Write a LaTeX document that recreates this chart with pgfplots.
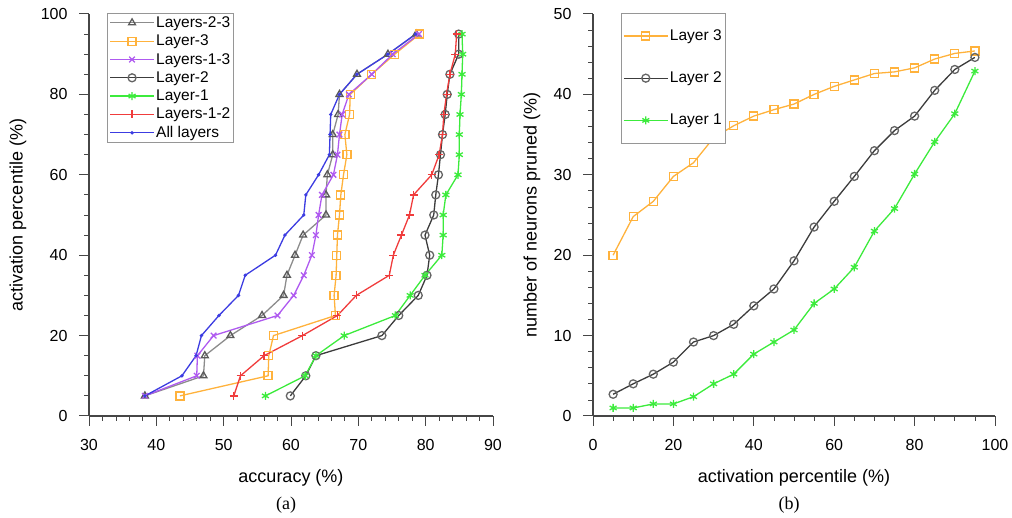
\documentclass[border=0pt]{standalone}
\usepackage{fontspec}
\setmainfont{Liberation Sans}
\newfontfamily\capfont{Liberation Serif}
\usepackage{pgfplots}
\pgfplotsset{compat=1.18}

\definecolor{axgray}{RGB}{70,70,70}
\definecolor{legframe}{RGB}{150,150,150}
\definecolor{cgray}{RGB}{140,140,140}
\definecolor{cgraymk}{RGB}{90,90,90}
\definecolor{corange}{RGB}{255,178,60}
\definecolor{cpurple}{RGB}{175,90,240}
\definecolor{cblack}{RGB}{60,60,60}
\definecolor{cblackmk}{RGB}{100,100,100}
\definecolor{cgreen}{RGB}{60,235,60}
\definecolor{cred}{RGB}{240,60,60}
\definecolor{cblue}{RGB}{60,60,225}

\pgfplotsset{
  fig/.style={
    scale only axis,
    axis x line=bottom, axis y line=left,
    axis line style={-, draw=axgray, line width=1.1pt},
    tick align=outside,
    major tick length=10pt, minor tick length=5pt,
    major tick style={axgray, line width=1pt},
    minor tick style={axgray, line width=0.8pt},
    tick label style={font=\fontsize{16}{16}\selectfont},
    xticklabel shift=10pt, yticklabel shift=8pt,
    label style={font=\fontsize{18}{18}\selectfont},
    /pgf/number format/assume math mode=true,
    legend cell align=left,
    legend image code/.code={
      \draw[mark repeat=2,mark phase=2] plot coordinates {(0pt,0pt) (22pt,0pt) (44pt,0pt)};},
    legend style={draw=legframe, line width=0.8pt, fill=white,
      font=\fontsize{15.5}{16}\selectfont, anchor=north west,
      inner xsep=2pt, inner ysep=2pt,
      nodes={inner sep=1.5pt}},
    every axis plot/.append style={line width=1.3pt, mark size=4pt},
  },
}

\begin{document}
\begin{tikzpicture}
\path[use as bounding box] (0pt,0pt) rectangle (1012pt,518pt);

% (a) accuracy vs activation percentile
\begin{axis}[fig,
  at={(89pt,102pt)}, anchor=south west,
  width=404pt, height=402pt,
  xmin=30, xmax=90, ymin=0, ymax=100,
  xtick={30,40,...,90}, ytick={0,20,...,100},
  minor x tick num=4, minor y tick num=3,
  xlabel={accuracy (\%)}, ylabel={activation percentile (\%)},
  xlabel style={at={(axis description cs:0.5,0)}, yshift=-62pt, anchor=center},
  ylabel style={at={(axis description cs:-0.1757,0.5)}, anchor=center},
  legend style={at={(axis description cs:0.0446,1.003)}, row sep=3pt},
]
\addplot[cgray, mark=triangle, mark options={draw=cgraymk}] coordinates {
(38.3,5) (47.0,10) (47.2,15) (51.0,20) (55.7,25) (58.9,30) (59.4,35) (60.6,40)
(61.8,45) (65.2,50) (65.2,55) (65.4,60) (66.2,65) (66.2,70) (67.0,75) (67.2,80)
(69.8,85) (74.4,90) (78.6,95)};
\addplot[corange, mark=square] coordinates {
(43.5,5) (56.6,10) (56.7,15) (57.4,20) (66.6,25) (66.4,30) (66.7,35) (66.8,40)
(66.9,45) (67.2,50) (67.4,55) (67.8,60) (68.3,65) (68.0,70) (68.7,75) (68.8,80)
(72.0,85) (75.4,90) (79.1,95)};
\addplot[cpurple, mark=x] coordinates {
(38.3,5) (46.0,10) (46.1,15) (48.5,20) (58.0,25) (60.4,30) (61.9,35) (63.1,40)
(63.7,45) (64.1,50) (64.6,55) (66.3,60) (66.9,65) (67.2,70) (67.6,75) (68.6,80)
(72.0,85) (75.1,90) (79.0,95)};
\addplot[cblack, mark=o, mark options={draw=cblackmk}] coordinates {
(59.9,5) (62.2,10) (63.7,15) (73.5,20) (76.0,25) (78.9,30) (80.2,35) (80.6,40)
(79.9,45) (81.2,50) (81.5,55) (81.9,60) (82.2,65) (82.5,70) (82.9,75) (83.2,80)
(83.6,85) (84.9,90) (84.9,95)};
\addplot[cgreen, mark=asterisk] coordinates {
(56.2,5) (62.1,10) (63.7,15) (67.9,20) (75.5,25) (77.7,30) (79.9,35) (82.4,40)
(82.6,45) (82.6,50) (83.0,55) (84.8,60) (85.0,65) (85.0,70) (85.1,75) (85.3,80)
(85.4,85) (85.5,90) (85.4,95)};
\addplot[cred, mark=+] coordinates {
(51.5,5) (52.5,10) (56.0,15) (61.7,20) (66.9,25) (69.7,30) (74.6,35) (75.2,40)
(76.4,45) (77.6,50) (78.2,55) (80.9,60) (82.0,65) (82.5,70) (82.7,75) (83.1,80)
(83.6,85) (84.4,90) (84.6,95)};
\addplot[cblue, mark=*, mark size=1pt] coordinates {
(38.3,5) (43.8,10) (45.9,15) (46.7,20) (49.3,25) (52.2,30) (53.2,35) (57.7,40)
(59.1,45) (61.9,50) (62.2,55) (64.1,60) (65.7,65) (65.8,70) (65.9,75) (67.2,80)
(69.8,85) (74.4,90) (78.5,95)};
\legend{Layers-2-3, Layer-3, Layers-1-3, Layer-2, Layer-1, Layers-1-2, All layers}
\end{axis}

% (b) neurons pruned vs activation percentile
\begin{axis}[fig,
  at={(593pt,102pt)}, anchor=south west,
  width=402pt, height=402pt,
  xmin=0, xmax=100, ymin=0, ymax=50,
  xtick={0,20,...,100}, ytick={0,10,...,50},
  minor x tick num=3, minor y tick num=4,
  xlabel={activation percentile (\%)}, ylabel={number of neurons pruned (\%)},
  xlabel style={at={(axis description cs:0.5,0)}, yshift=-62pt, anchor=center},
  ylabel style={at={(axis description cs:-0.1517,0.5)}, anchor=center},
  legend style={at={(axis description cs:0.069,1.003)}, row sep=27pt, inner ysep=15pt},
]
\addplot[corange, mark=square] coordinates {
(5,20.0) (10,24.8) (15,26.7) (20,29.8) (25,31.5) (30,34.6) (35,36.1) (40,37.3)
(45,38.1) (50,38.8) (55,40.0) (60,41.0) (65,41.8) (70,42.6) (75,42.8) (80,43.3)
(85,44.4) (90,45.1) (95,45.4)};
\addplot[cblack, mark=o, mark options={draw=cblackmk}] coordinates {
(5,2.7) (10,4.0) (15,5.2) (20,6.7) (25,9.2) (30,10.0) (35,11.4) (40,13.7)
(45,15.8) (50,19.3) (55,23.5) (60,26.7) (65,29.8) (70,33.0) (75,35.5) (80,37.3)
(85,40.5) (90,43.1) (95,44.6)};
\addplot[cgreen, mark=asterisk] coordinates {
(5,1.0) (10,1.0) (15,1.5) (20,1.5) (25,2.4) (30,4.0) (35,5.2) (40,7.7)
(45,9.2) (50,10.7) (55,14.0) (60,15.8) (65,18.5) (70,23.0) (75,25.8) (80,30.1)
(85,34.1) (90,37.6) (95,42.9)};
\legend{Layer 3, Layer 2, Layer 1}
\end{axis}

\node[font=\capfont\fontsize{18}{18}\selectfont] at (286pt,13pt) {(a)};
\node[font=\capfont\fontsize{18}{18}\selectfont] at (789pt,13pt) {(b)};
\end{tikzpicture}
\end{document}
